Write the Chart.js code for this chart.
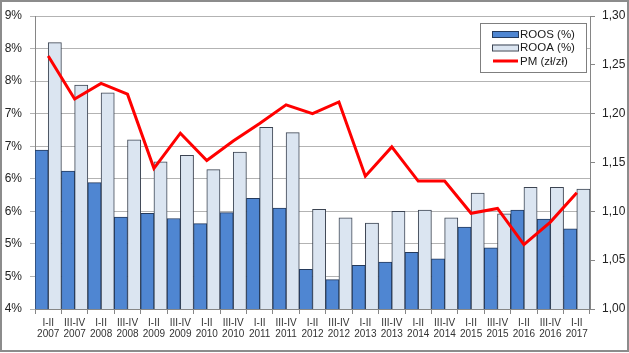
<!DOCTYPE html>
<html>
<head>
<meta charset="utf-8">
<script src="https://cdn.jsdelivr.net/npm/chart.js@4.4.0/dist/chart.umd.min.js"></script>
<style>
  html, body { margin: 0; padding: 0; background: #fff; }
  #wrap { width: 629px; height: 353px; position: relative; }
</style>
</head>
<body>
<div id="wrap"><canvas id="myChart" width="629" height="353"></canvas></div>
<script>
// data
let okresy = ['I-II','III-IV','I-II','III-IV','I-II','III-IV','I-II','III-IV','I-II','III-IV','I-II','III-IV','I-II','III-IV','I-II','III-IV','I-II','III-IV','I-II','III-IV','I-II'];
let lata = ['2007','2007','2008','2008','2009','2009','2010','2010','2011','2011','2012','2012','2013','2013','2014','2014','2015','2015','2016','2016','2017'];
let roos = [6.44, 6.12, 5.94, 5.41, 5.47, 5.39, 5.31, 5.48, 5.70, 5.55, 4.61, 4.45, 4.67, 4.72, 4.87, 4.77, 5.26, 4.94, 5.52, 5.38, 5.23];
let rooa = [8.09, 7.44, 7.32, 6.60, 6.26, 6.36, 6.14, 6.41, 6.79, 6.71, 5.53, 5.40, 5.32, 5.50, 5.52, 5.40, 5.78, 5.46, 5.87, 5.87, 5.84];
let pm = [1.259, 1.215, 1.231, 1.220, 1.144, 1.180, 1.152, 1.172, 1.190, 1.209, 1.200, 1.212, 1.136, 1.166, 1.131, 1.131, 1.098, 1.103, 1.066, 1.089, 1.119];

let etykiety = okresy.map((o, i) => [o, lata[i]]);

const fontTxt = "'Liberation Sans', Arial, sans-serif";

// legend box + outer frame, like the Excel original
const ramka = {
  id: 'ramka',
  afterDraw(chart) {
    const c = chart.ctx;
    c.save();
    // legend
    c.fillStyle = '#ffffff';
    c.fillRect(480, 23, 106, 49);
    c.strokeStyle = '#7f7f7f';
    c.lineWidth = 1;
    c.strokeRect(480.5, 23.5, 106, 49);
    const items = chart.data.datasets;
    const ys = [34, 47.5, 61];
    c.font = '11.5px ' + fontTxt;
    c.textBaseline = 'middle';
    items.forEach((ds, i) => {
      const y = ys[i];
      if (ds.type === 'line') {
        c.strokeStyle = ds.borderColor;
        c.lineWidth = 3;
        c.beginPath();
        c.moveTo(493, y);
        c.lineTo(518, y);
        c.stroke();
      } else {
        c.fillStyle = ds.backgroundColor;
        c.fillRect(492, y - 3, 26, 6);
        c.strokeStyle = ds.borderColor;
        c.lineWidth = 1;
        c.strokeRect(492.5, y - 2.5, 26, 6);
      }
      c.fillStyle = '#1a1a1a';
      c.fillText(ds.label, 520, y + 0.5);
    });
    // outer frame
    c.strokeStyle = '#8c8c8c';
    c.lineWidth = 2;
    c.strokeRect(1, 1, 627, 350);
    c.restore();
  }
};

const ctx = document.getElementById('myChart');

new Chart(ctx, {
  type: 'bar',
  data: {
    labels: etykiety,
    datasets: [{
      type: 'bar',
      label: 'ROOS (%)',
      data: roos,
      yAxisID: 'y',
      backgroundColor: '#4f86d2',
      borderColor: '#243a5c',
      borderWidth: 1,
      order: 1
    }, {
      type: 'bar',
      label: 'ROOA (%)',
      data: rooa,
      yAxisID: 'y',
      backgroundColor: '#dbe5f1',
      borderColor: '#3c4452',
      borderWidth: 1,
      order: 1
    }, {
      type: 'line',
      label: 'PM (zł/zł)',
      data: pm,
      yAxisID: 'y1',
      borderColor: '#ff0000',
      borderWidth: 3,
      pointRadius: 0,
      tension: 0,
      order: -1
    }]
  },
  options: {
    responsive: false,
    animation: false,
    layout: { padding: { top: 16, left: 0, right: 0, bottom: 0 } },
    datasets: {
      bar: { categoryPercentage: 1, barPercentage: 1 }
    },
    plugins: {
      legend: { display: false },
      tooltip: { enabled: false }
    },
    scales: {
      x: {
        afterFit: s => { s.height = 44; },
        grid: { offset: true, drawOnChartArea: false, tickLength: 5, color: '#868686' },
        border: { color: '#868686' },
        ticks: {
          autoSkip: false,
          maxRotation: 0,
          padding: 3,
          color: '#333333',
          font: { family: fontTxt, size: 10, lineHeight: 1.17 }
        }
      },
      y: {
        position: 'left',
        min: 4,
        max: 8.5,
        afterFit: s => { s.width = 35; },
        grid: { color: '#b3b3b3', tickLength: 5 },
        border: { color: '#868686' },
        ticks: {
          stepSize: 0.5,
          padding: 8,
          color: '#222222',
          font: { family: fontTxt, size: 12 },
          callback: v => Math.round(v) + '%'
        }
      },
      y1: {
        position: 'right',
        min: 1,
        max: 1.3,
        afterFit: s => { s.width = 39; },
        grid: { drawOnChartArea: false, tickLength: 5, color: '#868686' },
        border: { color: '#868686' },
        ticks: {
          stepSize: 0.05,
          padding: 7,
          color: '#222222',
          font: { family: fontTxt, size: 12 },
          callback: v => v.toFixed(2).replace('.', ',')
        }
      }
    }
  },
  plugins: [ramka]
});
</script>
</body>
</html>
